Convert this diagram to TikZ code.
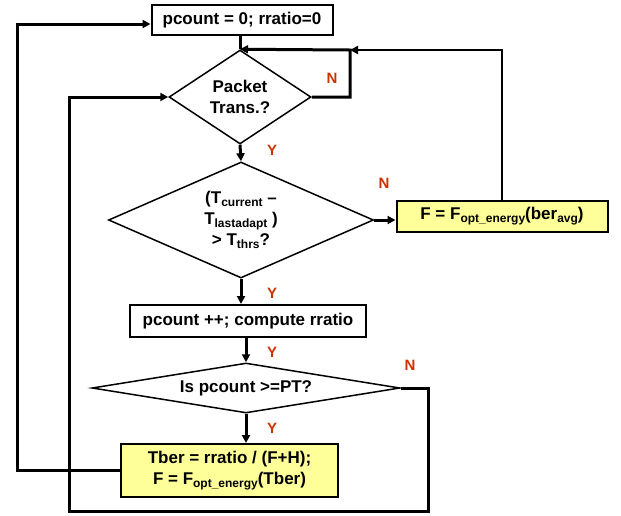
\documentclass[tikz,border=0pt]{standalone}
\usepackage{fontspec}
\setmainfont{Liberation Sans}
\usetikzlibrary{shapes.geometric}
\usetikzlibrary{arrows.meta}
\definecolor{calcyellow}{RGB}{255,255,153}
\definecolor{answerred}{RGB}{204,51,0}
\newcommand{\subtxt}[1]{\raisebox{-0.35ex}{\fontsize{12}{12}\selectfont #1}}

\begin{document}
\begin{tikzpicture}[x=1pt, y=-1pt, font=\fontsize{17}{21}\selectfont\bfseries]

\tikzstyle{flowbox}=[align=center, draw=black, line width=2pt, inner sep=0pt]
\tikzstyle{calcbox}=[flowbox, fill=calcyellow]
\tikzstyle{decision}=[align=center, shape=diamond, draw=black, line width=1.5pt, inner sep=0pt]
\tikzstyle{conn}=[line width=3pt, -{Triangle[length=8pt,width=8pt]}]
\tikzstyle{answer}=[text=answerred, font=\fontsize{15}{15}\selectfont\bfseries]

\useasboundingbox (0,0) rectangle (621,515);

% boxes and decisions
\node[flowbox, minimum width=181pt, minimum height=30pt] (init) at (242,20) {pcount = 0; rratio=0};
\node[decision, aspect=1.51, minimum width=142pt, minimum height=94pt] (d1) at (240,97) {Packet\\Trans.?};
\node[decision, aspect=2.28, minimum width=265pt, minimum height=116pt] (d2) at (241,220)
	{(T\subtxt{current} --\\T\subtxt{lastadapt} )\\> T\subtxt{thrs}?};
\node[calcbox, minimum width=211pt, minimum height=31pt] (fbox) at (502,216.5)
	{F = F\subtxt{opt\_energy}(ber\subtxt{avg})};
\node[flowbox, minimum width=236pt, minimum height=32pt] (count) at (248,321) {pcount ++; compute rratio};
\node[decision, aspect=6.16, minimum width=308pt, minimum height=50pt] (pt) at (246,388) {Is pcount >=PT?};
\node[calcbox, minimum width=217pt, minimum height=53pt] (tber) at (229.5,470.5)
	{Tber = rratio / (F+H);\\F = F\subtxt{opt\_energy}(Tber)};

% answers
\node[answer] (y1) at (272,150) {Y};
\node[answer] (n1) at (332,78) {N};
\node[answer] (n2) at (384,183) {N};
\node[answer] (y2) at (272,293) {Y};
\node[answer] (y3) at (272,352) {Y};
\node[answer] (n3) at (410,365) {N};
\node[answer] (y4) at (272,428) {Y};

% corners of the loops
\coordinate (nloop) at (350,50);
\coordinate (outer) at (17,24);
\coordinate (rbot) at (428,511);
\coordinate (lbot) at (69,511);

\draw[line width=3pt] (init.south -| d1.north) -- (d1.north);
\draw[conn] (d1.east) -| (nloop) -- (d1.north);
\draw[conn, line width=2pt] (fbox.north) |- (nloop);
\draw[conn] (d1.south) -- (d2.north);
\draw[conn] (d2.east) -- (d2.east -| fbox.west);
\draw[conn] (d2.south) -- (d2.south |- count.north);
\draw[conn] (pt.north |- count.south) -- (pt.north);
\draw[conn] (pt.south) -- (pt.south |- tber.north);
\draw[conn] (pt.east) -| (rbot) -- (lbot) |- (d1.west);
\draw[conn] (tber.west) -| (outer) -- (outer -| init.west);
\end{tikzpicture}
\end{document}
